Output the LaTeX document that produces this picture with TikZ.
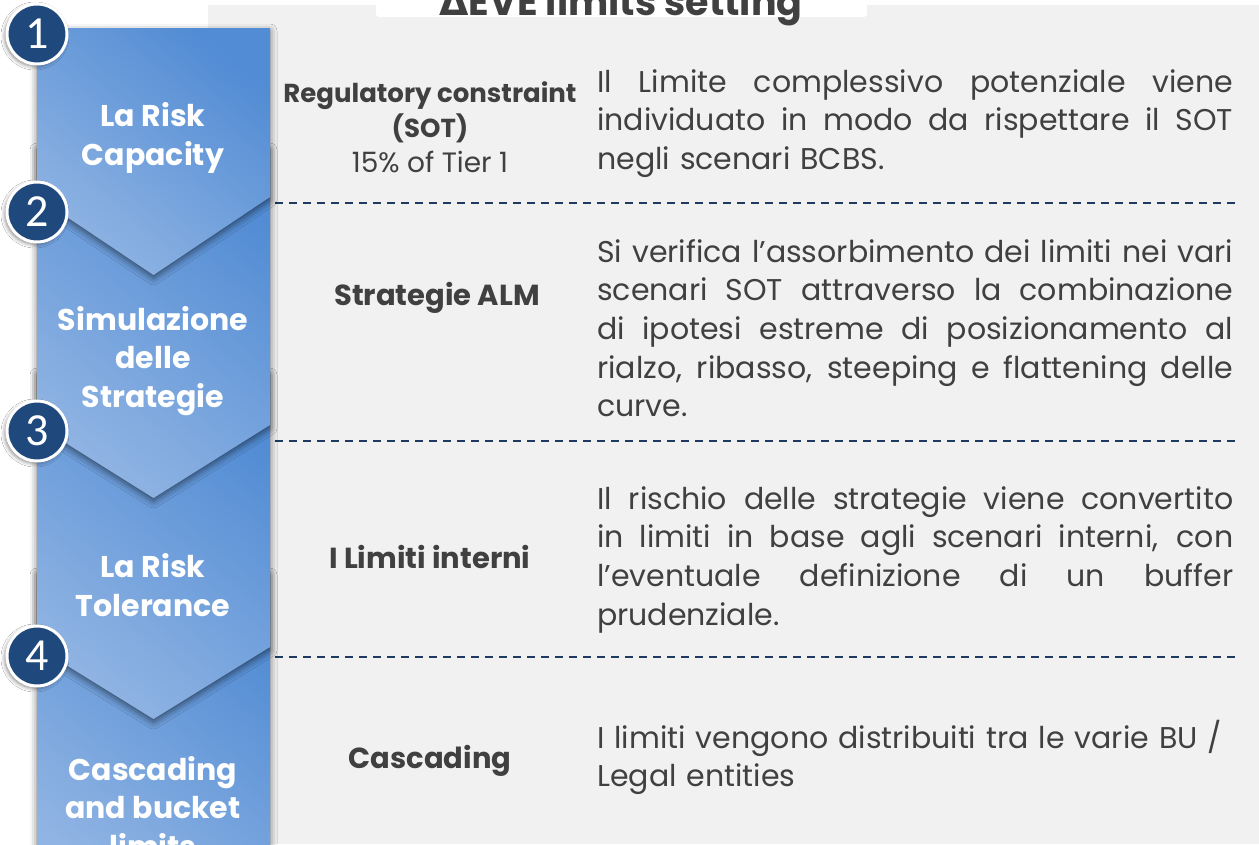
\documentclass[tikz,border=0pt]{standalone}
\usepackage{fontspec}
\setmainfont{Poppins}
\newfontfamily\numfont{Carlito}
\newfontfamily\symfont{DejaVu Sans}
\usetikzlibrary{shadows.blur}
\definecolor{panel}{HTML}{F1F1F1}
\definecolor{txt}{HTML}{404040}
\definecolor{navy}{HTML}{1F3A5F}
\definecolor{circ}{HTML}{1F497D}
\definecolor{chevdark}{HTML}{528CD4}
\definecolor{chevlight}{HTML}{90B4E3}
\begin{document}
\begin{tikzpicture}[x=1pt,y=-1pt,
  chev/.style={top color=chevdark, bottom color=chevlight, shading angle=-40,
    blur shadow={shadow xshift=0pt, shadow yshift=-3pt, shadow blur radius=7pt, shadow opacity=55}},
  numcirc/.style={circle, fill=circ, draw=white, line width=3pt, minimum size=60pt, inner sep=0pt,
    text=white, font=\numfont\fontsize{46}{46}\selectfont,
    blur shadow={shadow xshift=-2pt, shadow yshift=-2pt, shadow blur radius=4pt, shadow opacity=50}},
  collabel/.style={text=white, align=center, inner sep=0pt, font=\bfseries\fontsize{30}{38.5}\selectfont},
  midlabel/.style={text=txt, align=center, inner sep=0pt, font=\fontsize{28}{35}\selectfont},
  midbold/.style={midlabel, font=\bfseries\fontsize{29}{35}\selectfont},
  body/.style={text=txt, text width=636pt, align=left, inner sep=0pt, anchor=base west,
    font=\fontsize{30}{38.7}\selectfont},
  dashline/.style={navy, line width=2pt, dash pattern=on 8pt off 6pt}]
\newcommand{\jline}[1]{\leavevmode\hbox to 636pt{\spaceskip=\fontdimen2\font plus 1fil\relax #1}}
\fill[white] (0,0) rectangle (1259,844);
\useasboundingbox (0,0) rectangle (1259,844);
% grey panel
\fill[panel] (208,5) rectangle (1259,844);
% title box
\fill[white, rounded corners=3pt] (376,-10) rectangle (867,17);
\node[anchor=base, text=txt, inner sep=0pt, font=\bfseries\fontsize{38}{40}\selectfont] (title) at (621,15) {{\symfont Δ}EVE limits setting};
% dashed separators
\coordinate (d1a) at (275,203); \coordinate (d1b) at (1236,203);
\coordinate (d2a) at (275,441); \coordinate (d2b) at (1236,441);
\coordinate (d3a) at (275,657); \coordinate (d3b) at (1236,657);
\draw[dashline] (d1a) -- (d1b);
\draw[dashline] (d2a) -- (d2b);
\draw[dashline] (d3a) -- (d3b);
% chevron column
\begin{scope}
\clip (0,0) rectangle (1259,844);
\path[chev] (37,572) -- (153.5,650) -- (270,572) -- (270,900) -- (37,900) -- cycle;
\path[chev] (37,372) -- (153.5,450) -- (270,372) -- (270,647) -- (153.5,719) -- (37,647) -- cycle;
\path[chev] (37,147) -- (153.5,225) -- (270,147) -- (270,425) -- (153.5,498) -- (37,425) -- cycle;
\path[chev] (37,28) -- (270,28) -- (270,197) -- (153.5,275) -- (37,197) -- cycle;
\end{scope}
% number circles
\node[numcirc] (n1) at (37,34) {1};
\node[numcirc] (n2) at (37,212) {2};
\node[numcirc] (n3) at (37,431) {3};
\node[numcirc] (n4) at (37,656) {4};
% column labels
\node[collabel] (c1) at (153,138) {La Risk\\Capacity};
\node[collabel] (c2) at (153,361) {Simulazione\\delle\\Strategie};
\node[collabel] (c3) at (153,585) {La Risk\\Tolerance};
\node[collabel] (c4) at (153,807) {Cascading\\and bucket\\limits};
% middle labels
\node[midlabel] (m1) at (430,127) {\textbf{\fontsize{26}{35}\selectfont Regulatory constraint}\\\textbf{\fontsize{26}{35}\selectfont (SOT)}\\15\% of Tier 1};
\node[midbold] (m2) at (437,298) {Strategie ALM};
\node[midbold] (m3) at (430,557) {I Limiti interni};
\node[midbold] (m4) at (430,761) {Cascading};
% descriptions
\node[body] (p1) at (597,92) {\jline{Il Limite complessivo potenziale viene}\\
\jline{individuato in modo da rispettare il SOT}\\
negli scenari BCBS.};
\node[body] (p2) at (597,262) {\jline{Si verifica l’assorbimento dei limiti nei vari}\\
\jline{scenari SOT attraverso la combinazione}\\
\jline{di ipotesi estreme di posizionamento al}\\
\jline{rialzo, ribasso, steeping e flattening delle}\\
curve.};
\node[body] (p3) at (597,509) {\jline{Il rischio delle strategie viene convertito}\\
\jline{in limiti in base agli scenari interni, con}\\
\jline{l’eventuale definizione di un buffer}\\
prudenziale.};
\node[body] (p4) at (597,748) {I limiti vengono distribuiti tra le varie BU /\\
Legal entities};
\end{tikzpicture}
\end{document}
